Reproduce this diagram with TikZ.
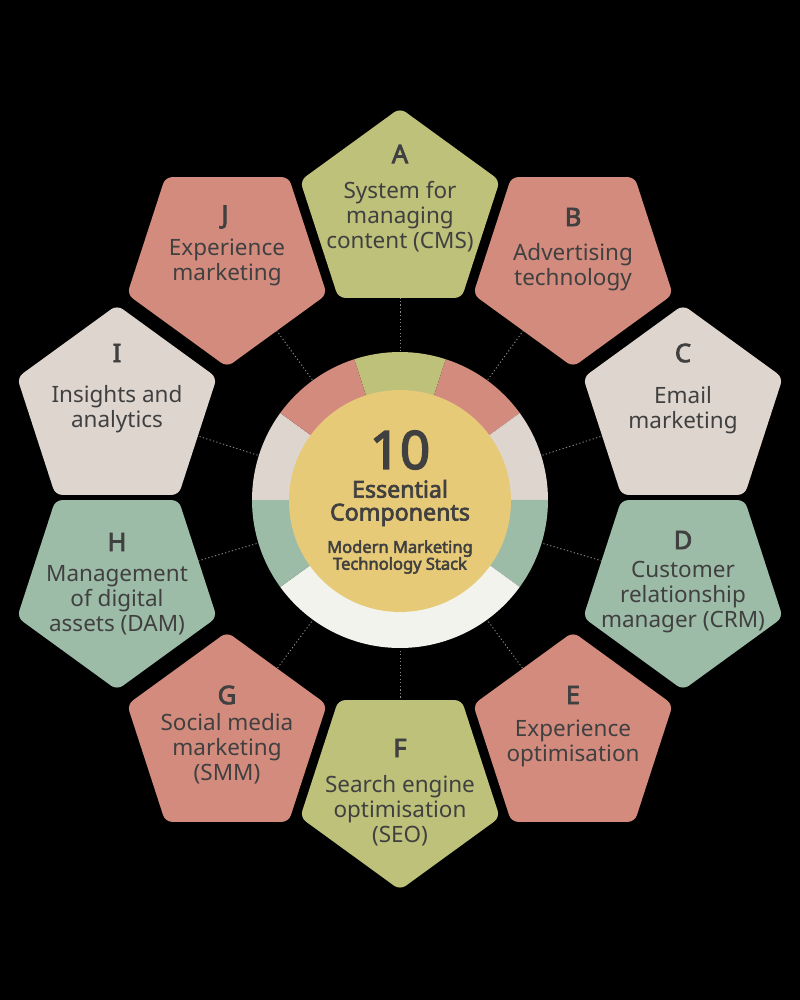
\documentclass[tikz,border=0pt]{standalone}
\usepackage{fontspec}
\setmainfont{Noto Sans}[BoldFont={Noto Sans}, BoldFeatures={FakeBold=3}]
\usetikzlibrary{shapes.geometric}
\pgfdeclarelayer{back}
\pgfsetlayers{back,main}
\definecolor{pinkc}{HTML}{D38B7E}
\definecolor{olivec}{HTML}{BDC179}
\definecolor{beigec}{HTML}{DED6CE}
\definecolor{sagec}{HTML}{9DBCA7}
\definecolor{yellowc}{HTML}{E7CA77}
\definecolor{creamc}{HTML}{F2F3EC}
\definecolor{txt}{HTML}{404040}
\definecolor{dotc}{HTML}{8A8A8A}
\begin{document}
\begin{tikzpicture}[x=0.02cm,y=0.02cm,
  pent/.style={regular polygon, regular polygon sides=5, minimum size=4.2cm, inner sep=0pt, outer sep=0pt, rounded corners=4pt},
  pentd/.style={pent, shape border rotate=180},
  letter/.style={text=txt, inner sep=0pt, font=\fontsize{14.5}{16}\selectfont\bfseries},
  body/.style={text=txt, align=center, inner sep=0pt, font=\fontsize{12.8}{14.2}\selectfont},
  conn/.style={draw=dotc, line width=0.5pt, dash pattern=on 0.7pt off 1.3pt}]
\useasboundingbox (-400,-500) rectangle (400,500);
\begin{pgfonlayer}{back}
\fill[black] (-400,-500) rectangle (400,500);
\end{pgfonlayer}
% ring slices
\fill[olivec] (0,0) -- (72:148) arc[start angle=72, end angle=108, radius=148] -- cycle;
\fill[pinkc] (0,0) -- (36:148) arc[start angle=36, end angle=72, radius=148] -- cycle;
\fill[beigec] (0,0) -- (0:148) arc[start angle=0, end angle=36, radius=148] -- cycle;
\fill[sagec] (0,0) -- (-36:148) arc[start angle=-36, end angle=0, radius=148] -- cycle;
\fill[creamc] (0,0) -- (216:148) arc[start angle=216, end angle=324, radius=148] -- cycle;
\fill[sagec] (0,0) -- (180:148) arc[start angle=180, end angle=216, radius=148] -- cycle;
\fill[beigec] (0,0) -- (144:148) arc[start angle=144, end angle=180, radius=148] -- cycle;
\fill[pinkc] (0,0) -- (108:148) arc[start angle=108, end angle=144, radius=148] -- cycle;
% hub
\node[circle, fill=yellowc, minimum size=4.44cm, inner sep=0pt, outer sep=0pt] (hub) at (0,-1) {};
\node[text=txt, inner sep=0pt, font=\fontsize{30}{32}\selectfont\bfseries] (ten) at (0,50) {10};
\node[text=txt, align=center, inner sep=0pt, font=\fontsize{13.2}{13}\selectfont\bfseries] (ess) at (0,-3) {Essential\\Components};
\node[text=txt, align=center, inner sep=0pt, font=\fontsize{9.4}{9.6}\selectfont\bfseries] (mod) at (0,-57) {Modern Marketing\\Technology Stack};
% pentagons
\node[pent, fill=olivec] (pA) at (0,287) {};
\node[pentd, fill=pinkc] (pB) at (173,238) {};
\node[pent, fill=beigec] (pC) at (283,90) {};
\node[pentd, fill=sagec] (pD) at (283,-85) {};
\node[pent, fill=pinkc] (pE) at (173,-237) {};
\node[pentd, fill=olivec] (pF) at (0,-285) {};
\node[pent, fill=pinkc] (pG) at (-173,-237) {};
\node[pentd, fill=sagec] (pH) at (-283,-85) {};
\node[pent, fill=beigec] (pI) at (-283,90) {};
\node[pentd, fill=pinkc] (pJ) at (-173,238) {};
% connectors
\begin{pgfonlayer}{back}
\foreach \p in {pA,pB,pC,pD,pE,pF,pG,pH,pI,pJ}{\draw[conn] (hub) -- (\p);}
\end{pgfonlayer}
% texts
\node[letter] (lA) at (0,346) {A};
\node[body] (tA) at (0,283) {System for\\managing\\content (CMS)};
\node[letter] (lB) at (173,283) {B};
\node[body] (tB) at (173,232.5) {Advertising\\technology};
\node[letter] (lC) at (283,147) {C};
\node[body] (tC) at (283,89.5) {Email\\marketing};
\node[letter] (lD) at (283,-40) {D};
\node[body] (tD) at (283,-97) {Customer\\relationship\\manager (CRM)};
\node[letter] (lE) at (173,-195) {E};
\node[body] (tE) at (173,-243.5) {Experience\\optimisation};
\node[letter] (lF) at (0,-248) {F};
\node[body] (tF) at (0,-311) {Search engine\\optimisation\\(SEO)};
\node[letter] (lG) at (-173,-195) {G};
\node[body] (tG) at (-173,-249) {Social media\\marketing\\(SMM)};
\node[letter] (lH) at (-283,-42) {H};
\node[body] (tH) at (-283,-100) {Management\\of digital\\assets (DAM)};
\node[letter] (lI) at (-283,147) {I};
\node[body] (tI) at (-283,90.5) {Insights and\\analytics};
\node[letter] (lJ) at (-175,283) {J};
\node[body] (tJ) at (-173,238) {Experience\\marketing};
\end{tikzpicture}
\end{document}
